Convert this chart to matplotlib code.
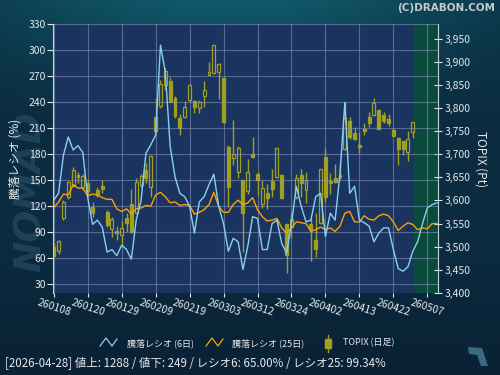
#!/usr/bin/python

import numpy as np
import matplotlib
matplotlib.use("Agg")
import matplotlib.pyplot as plt
from matplotlib.lines import Line2D
from matplotlib.patches import Rectangle, Polygon
from matplotlib.ticker import FuncFormatter

plt.rcParams["font.family"] = ["Noto Sans CJK JP", "DejaVu Sans"]

# tick labels every 7 trading days (yymmdd)
date_labels = ["260108", "260120", "260129", "260209", "260219", "260303",
               "260312", "260324", "260402", "260413", "260422", "260507"]

# advance/decline ratio, one value per trading day from 2026-01-08
ratio6 = [127, 135, 179, 200, 185, 190, 182, 130, 99, 104,
          96, 67, 70, 63, 75, 70, 59, 104, 127, 181,
          191, 202, 306, 275, 189, 154, 135, 131, 120, 89,
          125, 131, 145, 157, 120, 100, 68, 83, 79, 47,
          74, 108, 106, 70, 70, 100, 104, 77, 66, 100,
          143, 120, 102, 104, 131, 135, 85, 112, 104, 158,
          240, 135, 143, 104, 101, 97, 79, 89, 95, 95,
          70, 48, 45, 50, 68, 79, 100, 118, 122, 124]
ratio25 = [118, 125, 134, 133, 145, 141, 141, 132, 134, 133,
           130, 128, 128, 117, 114, 117, 111, 117, 118, 121,
           120, 133, 136, 131, 124, 125, 121, 122, 121, 111,
           113, 116, 122, 136, 120, 113, 113, 122, 127, 122,
           124, 130, 116, 108, 103, 104, 106, 95, 89, 95,
           102, 101, 100, 91, 93, 96, 93, 95, 91, 97,
           112, 114, 102, 102, 109, 105, 104, 109, 111, 109,
           102, 92, 97, 101, 99, 93, 95, 94, 100, 100]

# TOPIX daily candles
topix_open = [3500, 3491, 3561, 3608, 3632, 3655, 3629, 3638, 3585, 3622,
              3631, 3576, 3538, 3533, 3525, 3563, 3593, 3573, 3633, 3666,
              3630, 3780, 3804, 3850, 3858, 3821, 3778, 3780, 3817, 3816,
              3801, 3825, 3871, 3875, 3879, 3864, 3715, 3691, 3662, 3645,
              3621, 3700, 3657, 3593, 3616, 3643, 3650, 3654, 3549, 3543,
              3608, 3655, 3622, 3549, 3514, 3552, 3694, 3642, 3648, 3655,
              3712, 3772, 3747, 3720, 3754, 3780, 3785, 3796, 3785, 3776,
              3752, 3735, 3728, 3705, 3749]
topix_high = [3507, 3515, 3601, 3642, 3673, 3662, 3657, 3642, 3597, 3629,
              3645, 3579, 3564, 3544, 3555, 3573, 3624, 3648, 3657, 3681,
              3698, 3821, 3861, 3886, 3868, 3826, 3788, 3815, 3853, 3817,
              3817, 3858, 3900, 3936, 3897, 3864, 3720, 3774, 3718, 3645,
              3689, 3738, 3662, 3644, 3635, 3668, 3713, 3657, 3549, 3572,
              3657, 3669, 3661, 3559, 3572, 3667, 3713, 3660, 3679, 3683,
              3814, 3781, 3758, 3748, 3767, 3791, 3821, 3797, 3791, 3787,
              3756, 3738, 3729, 3751, 3769]
topix_low = [3478, 3485, 3557, 3604, 3629, 3637, 3622, 3615, 3564, 3608,
             3616, 3543, 3521, 3514, 3503, 3532, 3530, 3572, 3629, 3637,
             3608, 3749, 3801, 3839, 3812, 3778, 3741, 3778, 3814, 3790,
             3790, 3803, 3871, 3873, 3819, 3767, 3586, 3676, 3648, 3489,
             3615, 3691, 3611, 3583, 3582, 3608, 3648, 3604, 3444, 3518,
             3604, 3608, 3595, 3469, 3478, 3549, 3597, 3615, 3638, 3647,
             3710, 3732, 3731, 3703, 3741, 3758, 3783, 3754, 3767, 3761,
             3739, 3677, 3698, 3686, 3736]
topix_close = [3479, 3512, 3597, 3641, 3666, 3651, 3652, 3621, 3573, 3611,
               3625, 3546, 3559, 3530, 3541, 3551, 3532, 3641, 3652, 3648,
               3696, 3751, 3851, 3881, 3814, 3783, 3757, 3803, 3849, 3803,
               3812, 3838, 3877, 3936, 3895, 3769, 3630, 3700, 3713, 3572,
               3661, 3695, 3645, 3626, 3606, 3624, 3713, 3606, 3482, 3559,
               3648, 3638, 3645, 3538, 3494, 3667, 3608, 3638, 3640, 3650,
               3778, 3738, 3734, 3716, 3751, 3767, 3810, 3754, 3772, 3767,
               3740, 3712, 3712, 3732, 3769]

info_text = "[2026-04-28] 値上: 1288 / 値下: 249 / レシオ6: 65.00% / レシオ25: 99.34%"

PLOT_BG = "#1a345f"
FUTURE_BG = "#0a4a3c"
CANDLE = "#a0a01e"
BLUE = "#88d0f0"
ORANGE = "#ffa000"
TXT = "#e4e8ec"
GRID = "#8a9ac0"


def _background(fig):
  """
  Dark teal / navy gradient behind everything.
  """
  H, W = 375, 500
  yy, xx = np.mgrid[0:H, 0:W]
  teal = np.array([0x10, 0x5a, 0x6a]) / 255
  base = np.array([0x0b, 0x2b, 0x40]) / 255
  low = np.array([0x0a, 0x22, 0x36]) / 255
  t = np.clip(yy / 120.0, 0, 1)[..., None]
  h = np.exp(-((xx - 230) / 260.0) ** 2)[..., None]
  col = base + (teal - base) * (1 - t) * h
  b = np.clip((yy - 250) / 100.0, 0, 1)[..., None]
  col = col * (1 - b) + low * b
  bg = fig.add_axes([0, 0, 1, 1], zorder=-2)
  bg.imshow(col, aspect="auto", extent=[0, 1, 0, 1])
  bg.axis("off")


def main():
  fig = plt.figure(figsize=(5, 3.75), dpi=100)
  _background(fig)

  # faint watermark behind the left tick labels
  fig.text(0.062, 0.49, "NOMAD", rotation=90, fontsize=27, fontweight="bold",
           style="italic", color="#3a6476", alpha=0.4, ha="center",
           va="center", zorder=-1, family="DejaVu Sans")

  ax = fig.add_axes([0.106, 0.219, 0.77, 0.716])
  ax.set_facecolor(PLOT_BG)
  n_days = len(ratio6)
  ax.set_xlim(-0.15, n_days - 0.8)
  ax.axvspan(len(topix_close) - 0.7, n_days, color=FUTURE_BG, lw=0, zorder=0)

  # candles (TOPIX, right axis)
  for i in range(len(topix_close)):
    o, h, l, c = topix_open[i], topix_high[i], topix_low[i], topix_close[i]
    top, bot = max(o, c), min(o, c)
    ax.vlines(i, top, h, color=CANDLE, lw=1, zorder=2)
    ax.vlines(i, l, bot, color=CANDLE, lw=1, zorder=2)
    fc = PLOT_BG if c >= o else CANDLE
    ax.add_patch(Rectangle((i - 0.3, bot), 0.6, max(top - bot, 1.5),
                           facecolor=fc, edgecolor=CANDLE, lw=0.9, zorder=3))

  ax.set_ylim(3400, 3981)
  ax.set_yticks(np.arange(3400, 3951, 50))
  ax.yaxis.set_major_formatter(FuncFormatter(lambda v, _: f"{v:,.0f}"))

  ax.set_xticks(range(0, 78, 7))
  ax.set_xticklabels(date_labels, rotation=-18, ha="center",
                     rotation_mode="default")
  ax.grid(axis="x", color=GRID, lw=0.8, alpha=0.55, zorder=1)

  # ratio lines (left axis)
  ax2 = ax.twinx()
  xs = np.arange(n_days)
  ax2.plot(xs, ratio25, color=ORANGE, lw=1, zorder=4)
  ax2.plot(xs, ratio6, color=BLUE, lw=1, zorder=5)
  ax2.set_ylim(20, 330)
  ax2.set_yticks(range(30, 331, 30))
  ax2.yaxis.set_ticks_position("left")
  ax2.yaxis.set_label_position("left")
  ax2.set_ylabel("騰落レシオ (%)", color=TXT, fontsize=8.5, labelpad=5)
  ax2.grid(axis="y", color=GRID, lw=0.8, alpha=0.55)

  # twinx moved the candle axis to the left; put it back on the right
  ax.yaxis.set_ticks_position("right")
  ax.yaxis.set_label_position("right")
  ax.set_ylabel("TOPIX (Pt)", rotation=270, color=TXT, fontsize=8.5,
                labelpad=12)

  for a in (ax, ax2):
    for s in a.spines.values():
      s.set_visible(False)
  ax.spines["right"].set_visible(True)
  ax.spines["right"].set_color("#c8d0d8")
  ax2.spines["left"].set_visible(True)
  ax2.spines["left"].set_color("#c8d0d8")

  ax.tick_params(axis="y", direction="inout", length=6, width=0.8,
                 colors=TXT, labelsize=7.5, pad=2)
  ax2.tick_params(axis="y", direction="out", length=4, width=0.8,
                  colors=TXT, labelsize=7.5, pad=1)
  ax.tick_params(axis="x", direction="out", length=3, width=0.8,
                 colors=TXT, labelsize=7.5, pad=0)

  # legend
  px = lambda x: x / 500
  py = lambda y: 1 - y / 375
  fig.add_artist(Line2D([px(100), px(106), px(112), px(117)],
                        [py(346), py(338), py(346), py(339)],
                        color=BLUE, lw=0.9, transform=fig.transFigure))
  fig.text(px(127), py(343), "騰落レシオ (6日)", fontsize=6.5, color=TXT,
           va="center")
  fig.add_artist(Line2D([px(206), px(212), px(218), px(223)],
                        [py(346), py(338), py(346), py(339)],
                        color=ORANGE, lw=0.9, transform=fig.transFigure))
  fig.text(px(232), py(343), "騰落レシオ (25日)", fontsize=6.5, color=TXT,
           va="center")
  fig.add_artist(Line2D([px(327.5), px(327.5)], [py(335), py(352)],
                        color=CANDLE, lw=1, transform=fig.transFigure))
  fig.add_artist(Rectangle((px(325), py(348)), 6 / 500, 9 / 375,
                           facecolor=CANDLE, edgecolor=CANDLE,
                           transform=fig.transFigure))
  fig.text(px(343), py(343), "TOPIX (日足)", fontsize=6.5, color=TXT,
           va="center")

  fig.text(px(5), py(364), info_text, fontsize=8.3, color=TXT, va="center")
  fig.text(px(495), py(8), "(C)DRABON.COM", fontsize=7.5, fontweight="bold",
           color="#c4cad0", ha="right", va="center", family="DejaVu Sans")

  # small logo mark bottom right
  fig.add_artist(Polygon([(px(468), py(347)), (px(482), py(348)),
                          (px(488), py(366)), (px(481), py(366)),
                          (px(477), py(355)), (px(469), py(354))],
                         closed=True, facecolor="#3a6a80", edgecolor="none",
                         transform=fig.transFigure))

  fig.savefig("out.png", dpi=100)


if __name__ == "__main__":
  main()
